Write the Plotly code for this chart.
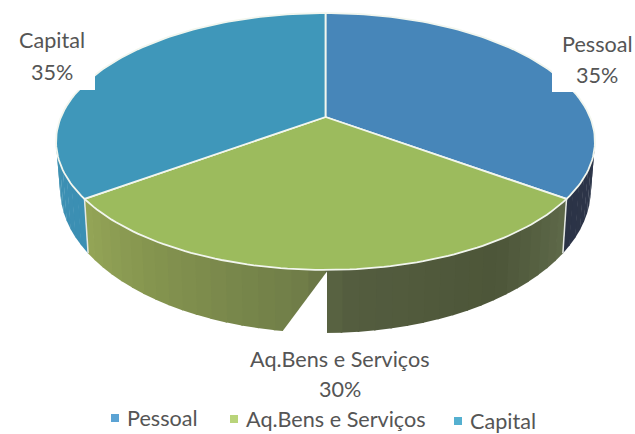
import numpy as np
import plotly.graph_objects as go

categories = ["Pessoal", "Aq.Bens e Serviços", "Capital"]
values = [35, 30, 35]
top_colors = ["#4786b9", "#9cbb5d", "#3f97ba"]
legend_colors = ["#5ba3d4", "#b9d47a", "#55b0d0"]
TEXT = "#555555"
FONT = "Lato"
FS = 21.6

W, H = 635, 434
CX, CY, A, B, TILT = 325.5, 117.0, 264.5, 123.8, 0.1907
SX, SY, DROP = 0.985, 1.12, 44.6


def rim(deg, lower=False):
    t = np.radians(deg)
    u, v = np.sin(t), -np.cos(t)
    w = 1 - TILT * v
    x, y = A * u / w, B * v / w
    if lower:
        return CX + SX * x, CY + DROP + SY * y
    return CX + x, CY + y


def lerp_color(stops, f):
    pos = [s[0] for s in stops]
    ch = [np.interp(f, pos, [int(s[1][i:i + 2], 16) for s in stops]) for i in (1, 3, 5)]
    return "rgb(%d,%d,%d)" % tuple(ch)


fig = go.Figure()

total = sum(values)
edges = np.concatenate([[0], np.cumsum(values)]) * 360.0 / total

wall_shades = [
    [(0, "#333d52"), (1, "#2b3346")],
    [(0, "#5f6a4a"), (0.2, "#4d5639"), (0.48, "#555e40"), (0.52, "#6f7c48"), (0.8, "#84944f"), (1, "#95a657")],
    [(0, "#3b8fb4"), (1, "#4593b0")],
]
visible = [(70, edges[1]), (edges[1], edges[2]), (edges[2], 290)]

for (a0, a1), shades in zip(visible, wall_shades):
    n = max(int((a1 - a0) / 3), 1)
    steps = np.linspace(a0, a1, n + 1)
    for i in range(n):
        seg = np.linspace(steps[i], steps[i + 1] + (0.3 if i < n - 1 else 0), 5)
        xt, yt = rim(seg)
        xb, yb = rim(seg[::-1], lower=True)
        fig.add_trace(go.Scatter(
            x=np.concatenate([xt, xb]), y=np.concatenate([yt, yb]),
            mode="lines", fill="toself", line=dict(width=0),
            fillcolor=lerp_color(shades, (i + 0.5) / n),
            hoverinfo="skip", showlegend=False))

# seams on the outer wall
for e in edges[1:3]:
    xt, yt = rim(e)
    xb, yb = rim(e, lower=True)
    fig.add_trace(go.Scatter(x=[xt, xb], y=[yt, yb], mode="lines",
                             line=dict(color="#e4e8e4", width=1.5),
                             hoverinfo="skip", showlegend=False))

# top faces
for name, a0, a1, col in zip(categories, edges[:-1], edges[1:], top_colors):
    arc = np.linspace(a0, a1, 90)
    xr, yr = rim(arc)
    fig.add_trace(go.Scatter(
        x=np.concatenate([[CX], xr, [CX]]), y=np.concatenate([[CY], yr, [CY]]),
        mode="lines", fill="toself", fillcolor=col,
        line=dict(color="#f2f6ee", width=1.8),
        name=name, hoverinfo="name", showlegend=False))

annotations = []

# legend row
legend_x = [115, 234, 458]
legend_y = [418, 419, 421]
for name, lx, ly, col in zip(categories, legend_x, legend_y, legend_colors):
    fig.add_trace(go.Scatter(
        x=[lx], y=[ly], mode="markers",
        marker=dict(symbol="square", size=8, color=col),
        name=name, showlegend=False, cliponaxis=False))
    annotations.append(dict(x=lx + 12, y=ly, text=name, showarrow=False, xanchor="left",
                            xshift=-2, yanchor="middle", font=dict(family=FONT, size=FS, color=TEXT)))

shapes = [
    dict(type="rect", x0=0, x1=95, y0=0, y1=90, fillcolor="white", line_width=0, layer="above"),
    dict(type="rect", x0=552, x1=635, y0=0, y1=92, fillcolor="white", line_width=0, layer="above"),
    dict(type="path", path="M 327 271.5 L 279 336 L 327 336 Z", fillcolor="white", line_width=0, layer="above"),
]

labels = [
    (categories[0], values[0], 597, 44, 75),
    (categories[1], values[1], 340, 359, 389),
    (categories[2], values[2], 52, 40, 72),
]
for name, val, ax, y1, y2 in labels:
    for txt, yy in ((name, y1), (f"{val}%", y2)):
        annotations.append(dict(x=ax, y=yy, text=txt, showarrow=False, xanchor="center",
                                yanchor="middle", font=dict(family=FONT, size=FS, color=TEXT)))

fig.update_layout(
    width=W, height=H, margin=dict(l=0, r=0, t=0, b=0),
    paper_bgcolor="white", plot_bgcolor="white", showlegend=False,
    xaxis=dict(range=[0, W], visible=False, fixedrange=True),
    yaxis=dict(range=[H, 0], visible=False, fixedrange=True),
    shapes=shapes, annotations=annotations,
)
fig.write_html("out.html", config=dict(displayModeBar=False),
               post_script="document.body.style.margin='0';document.documentElement.style.overflow='hidden';")
